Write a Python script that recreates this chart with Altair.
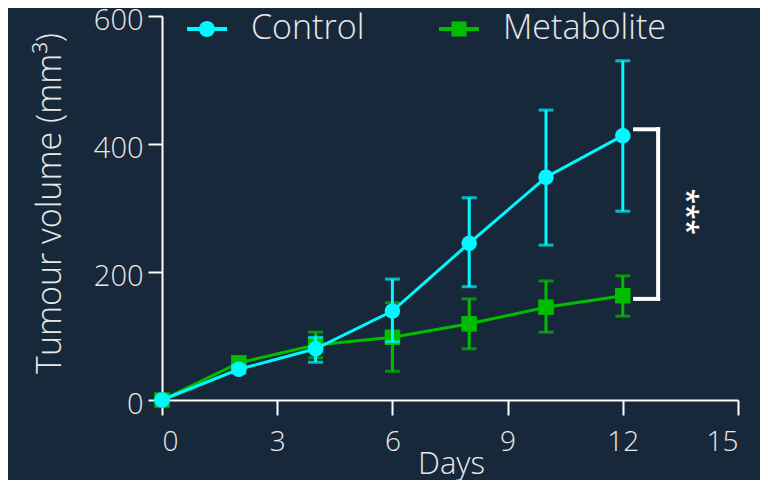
import altair as alt
import pandas as pd

days = [0, 2, 4, 6, 8, 10, 12]
series = ["Control", "Metabolite"]
control_mean = [0, 48, 80, 139, 245, 348, 413]
control_low = [0, 42, 59, 91, 177, 242, 295]
control_high = [0, 54, 98, 189, 316, 453, 530]
metab_mean = [0, 58, 86, 98, 119, 145, 163]
metab_low = [0, 52, 66, 45, 80, 106, 131]
metab_high = [0, 64, 106, 152, 158, 186, 194]

colors = {"Control": "#00f8ff", "Metabolite": "#00bd00"}
shapes = {"Control": "circle", "Metabolite": "square"}
bg = "#17283a"
FONT = "Open Sans"
TXT = "#e8e8e8"
YTITLE = "Tumour volume (mm³)"

# significance bracket (data coordinates)
br_x = [12.32, 12.92, 12.32]
br_x2 = [12.92, 12.92, 12.92]
br_y = [423, 158, 158]
br_y2 = [423, 423, 158]
star_x = [13.62]
star_y = [294]
star_text = ["***"]

rows = []
for name, m, lo, hi in [("Metabolite", metab_mean, metab_low, metab_high),
                        ("Control", control_mean, control_low, control_high)]:
    for d, a, b, c in zip(days, m, lo, hi):
        rows.append({"Day": d, "Volume": a, "Low": b, "High": c, "Group": name})
df = pd.DataFrame(rows)

xscale = alt.Scale(domain=[0, 15], nice=False)
yscale = alt.Scale(domain=[0, 600], nice=False)

circle_path = "M-2.5,-0.25H2.5V0.25H-2.5Z M1,0A1,1 0 1,1 -1,0A1,1 0 1,1 1,0Z"
square_path = "M-2.5,-0.25H2.5V0.25H-2.5Z M-0.94,-0.94H0.94V0.94H-0.94Z"

legend = alt.Legend(
    title=None, orient="none", direction="horizontal",
    legendX=28, legendY=-4, padding=0,
    symbolSize=256, labelOffset=27, columnPadding=74, symbolStrokeWidth=0,
    labelFont=FONT, labelFontWeight=300, labelFontSize=34, labelColor=TXT,
    labelLimit=400,
)

xax = alt.Axis(values=[0, 3, 6, 9, 12, 15], tickSize=15, labelPadding=13,
               titleX=289, titleY=73, titleBaseline="alphabetic", titleAlign="center",
               titleFontSize=31)
yax = alt.Axis(values=[0, 200, 400, 600], tickSize=14, labelPadding=5, labelFontSize=29,
               labelOffset=4,
               titleX=-102, titleY=187, titleAngle=270, titleBaseline="alphabetic",
               titleAlign="center", titleFontSize=34)

X = lambda **k: alt.X("Day:Q", scale=xscale, title="Days", **k)
Y = lambda f, **k: alt.Y(f, scale=yscale, title=YTITLE, **k)

# legend-only layer (no rows drawn)
leg = alt.Chart(df).transform_filter("false").mark_point(filled=True, opacity=1, size=256).encode(
    x=X(axis=xax),
    y=Y("Volume:Q", axis=yax),
    color=alt.Color("Group:N", scale=alt.Scale(domain=series, range=[colors[s] for s in series]), legend=legend),
    shape=alt.Shape("Group:N", scale=alt.Scale(domain=series, range=[circle_path, square_path]), legend=legend),
)

layers = [leg]
for name in ["Metabolite", "Control"]:
    base = alt.Chart(df).transform_filter(alt.datum.Group == name)
    err = base.mark_errorbar(ticks={"size": 15, "thickness": 3}, thickness=3, color=colors[name]).encode(
        x=X(), y=Y("Low:Q"), y2="High:Q",
    )
    line = base.mark_line(strokeWidth=3, color=colors[name]).encode(x=X(), y=Y("Volume:Q"))
    pts = base.mark_point(filled=True, opacity=1, size=240, color=colors[name], shape=shapes[name]).encode(
        x=X(), y=Y("Volume:Q"),
    )
    layers += [err, line, pts]

bdf = pd.DataFrame({"x": br_x, "x2": br_x2, "y": br_y, "y2": br_y2})
bracket = alt.Chart(bdf).mark_rule(color="white", strokeWidth=4, strokeCap="square").encode(
    x=alt.X("x:Q", scale=xscale, title="Days"), x2="x2:Q",
    y=alt.Y("y:Q", scale=yscale, title=YTITLE), y2="y2:Q",
)
sdf = pd.DataFrame({"x": star_x, "y": star_y, "t": star_text})
stars = alt.Chart(sdf).mark_text(color="white", font=FONT, fontSize=28, fontWeight=600,
                                 angle=90, align="center", baseline="middle").encode(
    x=alt.X("x:Q", scale=xscale, title="Days"), y=alt.Y("y:Q", scale=yscale, title=YTITLE), text="t:N")

chart = alt.layer(*layers, bracket, stars).properties(
    width=576, height=384, background=bg,
    autosize=alt.AutoSizeParams(type="none"),
    padding={"left": 154, "top": 8, "right": 22, "bottom": 80},
).configure_view(stroke=None).configure_axis(
    grid=False, domainColor="white", domainWidth=2, tickColor="white", tickWidth=2,
    labelColor=TXT, labelFont=FONT, labelFontWeight=300, labelFontSize=28,
    titleColor=TXT, titleFont=FONT, titleFontWeight=300, titleFontSize=32,
)

chart.save("out.html", embed_options={"renderer": "svg", "actions": False})
